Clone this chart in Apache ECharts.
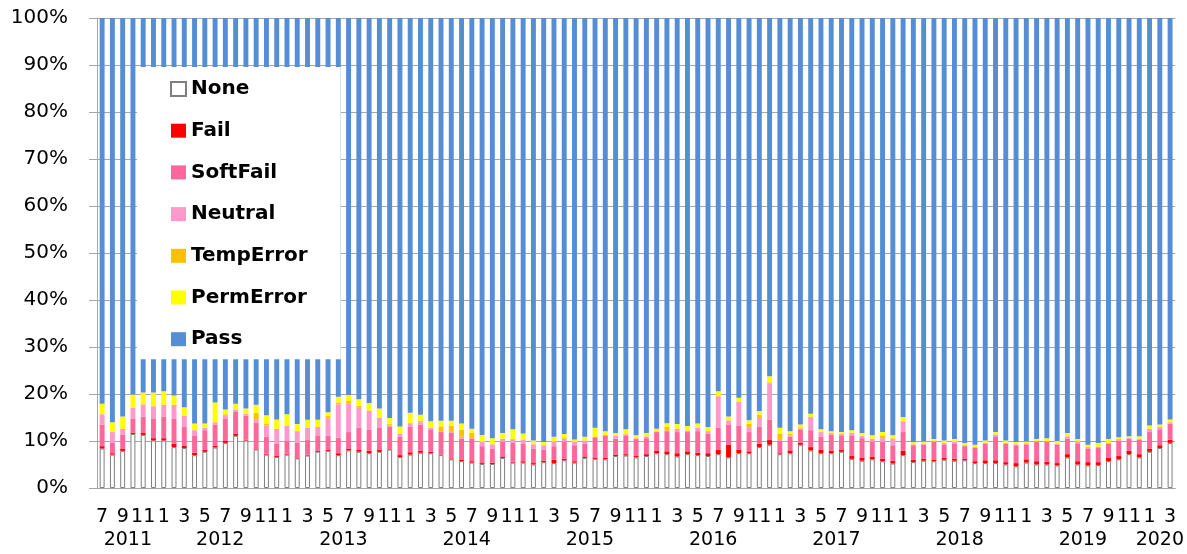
<!DOCTYPE html>
<html>
<head>
<meta charset="utf-8">
<title>SPF results</title>
<script src="https://cdn.jsdelivr.net/npm/echarts@6/dist/echarts.min.js"></script>
<style>
  html, body { margin: 0; padding: 0; background: #fff; }
  #chart { width: 1187px; height: 554px; }
</style>
</head>
<body>
<div id="chart"></div>
<script>
// monthly categories, Jul 2011 .. Mar 2020
var startYear = 2011, startMonth = 7, monthCount = 105;
var months = [];
for (var k = 0; k < monthCount; k++) {
    var mm = (startMonth - 1 + k) % 12 + 1;
    var yy = startYear + Math.floor((startMonth - 1 + k) / 12);
    months.push(yy + '-' + mm);
}

var seriesNames = ['None', 'Fail', 'SoftFail', 'Neutral', 'TempError', 'PermError', 'Pass'];
var seriesColors = ['#ffffff', '#ff0000', '#ff6699', '#ff99cc', '#ffc000', '#ffff00', '#558ed5'];

// percentages
var noneData = [8.4,7.1,7.9,11.5,11.3,10.1,10.1,8.7,8.5,7.0,
    7.7,8.6,9.6,11.1,10.1,8.2,7.1,6.6,7.1,6.3,
    6.9,7.7,7.9,7.0,8.0,7.7,7.4,7.7,8.2,6.6,
    7.1,7.5,7.4,7.0,6.1,5.7,5.4,5.1,5.1,6.4,
    5.4,5.4,5.0,5.5,5.3,5.9,5.4,6.4,6.2,6.1,
    6.8,6.9,6.5,6.8,7.4,7.2,6.7,7.2,7.0,6.8,
    7.2,6.5,7.4,7.4,8.7,9.2,7.2,7.4,9.2,8.0,
    7.4,7.4,7.7,6.2,5.8,6.1,5.7,5.2,7.0,5.5,
    5.8,5.7,6.0,5.8,5.9,5.3,5.3,5.3,5.0,4.6,
    5.4,5.0,5.0,4.8,6.5,5.0,4.8,4.9,5.7,6.1,
    7.2,6.5,7.7,8.5,9.6];
var failData = [0.5,0.3,0.5,0.3,0.4,0.5,0.5,0.7,0.5,0.5,
    0.4,0.4,0.4,0.4,0.2,0.2,0.2,0.2,0.2,0.2,
    0.2,0.2,0.3,0.4,0.4,0.4,0.5,0.4,0.2,0.4,
    0.5,0.4,0.3,0.1,0.2,0.3,0.3,0.2,0.3,0.2,
    0.2,0.3,0.3,0.3,0.7,0.3,0.3,0.2,0.3,0.3,
    0.3,0.3,0.3,0.4,0.5,0.6,0.7,0.6,0.5,0.6,
    0.9,2.7,0.7,0.4,0.7,1.0,0.2,0.6,0.4,0.7,
    0.7,0.5,0.4,0.6,0.7,0.6,0.5,0.6,0.9,0.5,
    0.4,0.3,0.4,0.4,0.3,0.4,0.6,0.6,0.5,0.7,
    0.7,0.7,0.6,0.5,0.7,0.7,0.7,0.6,0.7,0.7,
    0.7,0.7,0.7,0.6,0.7];
var softFailData = [4.6,2.2,2.9,3.0,3.5,4.2,4.6,5.4,4.0,3.7,
    4.2,4.5,4.8,4.8,5.1,5.5,3.6,2.6,2.7,3.1,
    3.1,3.3,2.9,3.3,3.5,4.7,4.5,4.8,4.7,3.9,
    5.4,5.6,4.8,4.8,5.5,4.5,4.8,3.6,3.0,3.2,
    4.0,3.7,3.1,2.4,2.9,3.7,3.4,2.8,4.3,4.8,
    3.4,4.0,3.6,3.4,4.0,4.3,4.5,4.1,4.6,4.2,
    4.7,4.3,5.2,4.1,3.6,4.3,2.7,2.9,2.9,3.6,
    2.8,3.4,3.1,4.4,4.1,3.1,3.6,3.3,4.0,3.1,
    3.0,3.8,2.8,3.3,2.7,2.8,3.5,5.1,3.9,3.8,
    3.2,4.1,4.2,3.9,3.3,3.8,2.9,3.0,3.0,3.3,
    2.6,3.1,3.5,3.4,3.4];
var neutralData = [2.2,2.3,1.3,2.3,2.6,2.6,2.5,2.9,2.4,1.1,
    0.5,0.4,0.7,0.4,0.4,0.6,2.4,3.2,3.3,2.5,
    2.6,1.8,3.7,7.1,6.1,4.4,4.0,2.1,0.2,0.7,
    0.8,0.5,0.3,0.2,0.3,0.4,0.1,0.9,0.9,0.7,
    0.8,0.9,0.9,0.9,1.0,0.6,0.7,0.7,0.1,0.1,
    0.6,0.2,0.2,0.4,0.1,0.1,0.7,0.3,0.7,0.5,
    6.7,0.9,5.0,0.9,1.9,7.8,0.1,0.3,0.2,2.6,
    1.0,0.2,0.4,0.6,0.5,0.7,0.8,1.4,2.3,0.2,
    0.2,0.2,0.4,0.3,0.2,0.2,0.2,0.4,0.2,0.2,
    0.2,0.2,0.2,0.2,0.5,0.4,0.3,0.3,0.2,0.3,
    0.2,0.2,0.7,0.5,0.3];
var tempErrorData = [0,0,0,0,0,0,0,0,0,0,
    0,0.1,0.2,0,0,1.5,0.4,0,0,0,
    0,0,0.5,0.4,0.5,0.3,0.1,0,0.3,0,
    0,0.3,0,1.0,1.1,1.5,1.1,0,0,0,
    0,0,0,0,0,0.3,0,0,0,0,
    0,0.2,0,0,0.1,0.8,0,0,0,0,
    0.2,0,0.1,0.9,0.7,0.2,1.4,0.3,0.2,0.3,
    0,0.3,0,0,0,0,0.6,0.1,0,0,
    0,0,0,0,0,0,0,0,0,0,
    0,0,0,0,0,0,0,0,0,0,
    0,0,0,0,0];
var permErrorData = [2.2,2.1,2.6,2.8,2.5,2.9,2.9,2.0,1.8,1.4,
    0.9,4.2,1.0,1.2,1.1,1.7,1.8,2.0,2.4,1.5,
    1.7,1.5,0.8,1.2,1.3,1.4,1.6,1.9,1.3,1.5,
    2.2,1.3,1.4,1.2,1.1,1.3,0.9,1.5,1.3,1.2,
    2.1,1.3,0.8,0.7,1.0,0.7,0.5,0.8,1.9,0.8,
    0.6,0.9,0.6,0.7,0.5,0.8,1.0,1.0,0.9,0.9,
    0.9,0.8,0.8,0.7,0.8,1.3,1.2,0.6,0.6,0.6,
    0.6,0.3,0.3,0.5,0.6,0.7,0.7,0.6,0.9,0.5,
    0.5,0.4,0.5,0.6,0.5,0.5,0.5,0.5,0.5,0.5,
    0.4,0.4,0.6,0.6,0.7,0.5,0.5,0.8,0.8,0.4,
    0.3,0.5,0.7,0.5,0.6];
var passData = [82.1,86.0,84.8,80.1,79.7,79.7,79.4,80.3,82.8,86.3,
    86.3,81.8,83.3,82.1,83.1,82.3,84.5,85.4,84.3,86.4,
    85.5,85.5,83.9,80.6,80.2,81.1,81.9,83.1,85.1,86.9,
    84.0,84.4,85.8,85.7,85.7,86.3,87.4,88.7,89.4,88.3,
    87.5,88.4,89.9,90.2,89.1,88.5,89.7,89.1,87.2,87.9,
    88.3,87.5,88.8,88.3,87.4,86.2,86.4,86.8,86.3,87.0,
    79.4,84.8,80.8,85.6,83.6,76.2,87.2,87.9,86.5,84.2,
    87.5,87.9,88.1,87.7,88.3,88.8,88.1,88.8,84.9,90.2,
    90.1,89.6,89.9,89.6,90.4,90.8,89.9,88.1,89.9,90.2,
    90.1,89.6,89.4,90.0,88.3,89.6,90.8,90.4,89.6,89.2,
    89.0,89.0,86.7,86.5,85.4];

var allData = [noneData, failData, softFailData, neutralData, tempErrorData, permErrorData, passData];

// year group labels sit in the middle of each year's months
var yearCenters = [], yearAt = {};
(function () {
    var first = {}, last = {};
    for (var i = 0; i < months.length; i++) {
        var y = months[i].split('-')[0];
        if (first[y] === undefined) first[y] = i;
        last[y] = i;
    }
    for (var y in first) {
        var c = (first[y] + last[y] + 1) / 2;
        yearCenters.push(c);
        yearAt[c] = y;
    }
})();

var chart = echarts.init(document.getElementById('chart'));
var axisGray = '#a6a6a6';
var font = 'DejaVu Sans';

var series = [];
for (var s = 0; s < seriesNames.length; s++) {
    series.push({
        name: seriesNames[s],
        type: 'bar',
        stack: 'total',
        barWidth: '48%',
        xAxisIndex: 0,
        itemStyle: s === 0
            ? { color: '#ffffff', borderColor: '#7f7f7f', borderWidth: 1 }
            : { color: seriesColors[s] },
        emphasis: { disabled: true },
        data: allData[s]
    });
}

var option = {
    animation: false,
    backgroundColor: '#fff',
    grid: { left: 97, right: 10, top: 18, bottom: 66 },
    legend: {
        orient: 'vertical',
        left: 137,
        top: 67,
        backgroundColor: '#fff',
        padding: [12, 33, 10, 33],
        itemGap: 21.7,
        itemWidth: 15,
        itemHeight: 14,
        icon: 'rect',
        textStyle: { fontFamily: font, fontSize: 20, fontWeight: 'bold', color: '#000', lineHeight: 20 },
        data: seriesNames
    },
    xAxis: [
        {
            type: 'category',
            data: months,
            position: 'bottom',
            axisLine: { lineStyle: { color: axisGray } },
            axisTick: { interval: 1, length: 8, lineStyle: { color: axisGray } },
            axisLabel: {
                interval: 1,
                margin: 20,
                fontFamily: font,
                fontSize: 19,
                color: '#000',
                formatter: function (v) { return v.split('-')[1]; }
            }
        },
        {
            type: 'value',
            position: 'bottom',
            min: 0,
            max: monthCount,
            axisLine: { show: false },
            axisTick: { show: false },
            splitLine: { show: false },
            axisLabel: {
                customValues: yearCenters,
                margin: 43,
                fontFamily: font,
                fontSize: 19,
                color: '#000',
                formatter: function (v) { return yearAt[v] || ''; }
            }
        }
    ],
    yAxis: {
        type: 'value',
        min: 0,
        max: 100,
        interval: 10,
        axisLine: { show: true, lineStyle: { color: axisGray } },
        axisTick: { show: true, length: 8, lineStyle: { color: axisGray } },
        splitLine: { lineStyle: { color: axisGray } },
        axisLabel: {
            margin: 29,
            fontFamily: font,
            fontSize: 20,
            color: '#000',
            formatter: '{value}%'
        }
    },
    series: series
};

chart.setOption(option);
</script>
</body>
</html>
